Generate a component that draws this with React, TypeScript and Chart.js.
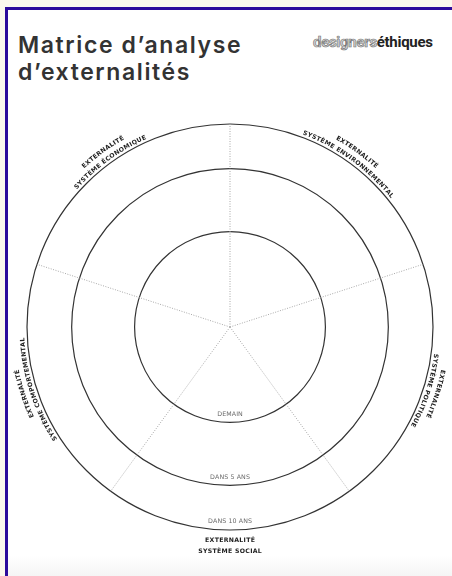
import React, { useEffect, useRef } from 'react';
import { Chart, registerables } from 'chart.js';

Chart.register(...registerables);

const titleLines = ['Matrice d\u2019analyse', 'd\u2019externalit\u00e9s'];
const logoLight = 'designers';
const logoBold = '\u00e9thiques';

// sectors between the spokes, clockwise from the top
const sectorPrefix = 'EXTERNALIT\u00c9';
const sectorNames = [
  'SYST\u00c8ME ENVIRONNEMENTAL',
  'SYST\u00c8ME POLITIQUE',
  'SYST\u00c8ME SOCIAL',
  'SYST\u00c8ME COMPORTEMENTAL',
  'SYST\u00c8ME \u00c9CONOMIQUE',
];
const sectorValues = [null, null, null, null, null];

// rings (time horizons), in % of the radius
const ringLabels = ['DEMAIN', 'DANS 5 ANS', 'DANS 10 ANS'];
const ringValues = [47, 78, 100];

function spacedWidth(ctx: CanvasRenderingContext2D, text: string, ls: number) {
  let w = 0;
  for (const ch of text) w += ctx.measureText(ch).width + ls;
  return w - ls;
}

function drawStraight(ctx: CanvasRenderingContext2D, text: string, x: number, y: number, ls: number) {
  const total = spacedWidth(ctx, text, ls);
  let cur = x - total / 2;
  ctx.textAlign = 'left';
  for (const ch of text) {
    ctx.fillText(ch, cur, y);
    cur += ctx.measureText(ch).width + ls;
  }
}

function drawArc(ctx: CanvasRenderingContext2D, text: string, cx: number, cy: number, R: number, theta: number, ls: number) {
  const total = spacedWidth(ctx, text, ls);
  let phi = theta - total / (2 * R);
  ctx.textAlign = 'center';
  ctx.textBaseline = 'alphabetic';
  for (const ch of text) {
    const w = ctx.measureText(ch).width;
    const a = phi + w / 2 / R;
    ctx.save();
    ctx.translate(cx + R * Math.sin(a), cy - R * Math.cos(a));
    ctx.rotate(a);
    ctx.fillText(ch, 0, 0);
    ctx.restore();
    phi += (w + ls) / R;
  }
}

const labelPlugin = {
  id: 'matrixLabels',
  afterDraw(chart: any) {
    const s = chart.scales.r;
    const ctx: CanvasRenderingContext2D = chart.ctx;
    const cx = s.xCenter;
    const cy = s.yCenter;
    const R = s.drawingArea;
    ctx.save();
    // ring labels, at the bottom inside each circle
    ctx.font = '6.3px "DejaVu Sans"';
    ctx.fillStyle = '#6a6a6a';
    ctx.textBaseline = 'middle';
    ringValues.forEach((v, i) => {
      const p = s.getPointPosition(2.5, s.getDistanceFromCenterForValue(v) - 8.3);
      drawStraight(ctx, ringLabels[i], p.x, p.y, 0.1);
    });
    // sector labels
    ctx.font = 'bold 6.2px "DejaVu Sans"';
    ctx.fillStyle = '#1e1e1e';
    sectorNames.forEach((name, i) => {
      const theta = s.getIndexAngle(i + 0.5);
      if (Math.abs(theta - Math.PI) < 0.2) {
        ctx.textBaseline = 'middle';
        const p1 = s.getPointPosition(i + 0.5, R + 10.5);
        const p2 = s.getPointPosition(i + 0.5, R + 21);
        drawStraight(ctx, sectorPrefix, p1.x, p1.y, 0.3);
        drawStraight(ctx, name, p2.x, p2.y, 0.3);
      } else {
        drawArc(ctx, name, cx, cy, R + 3, theta, 0.3);
        drawArc(ctx, sectorPrefix, cx, cy, R + 12.5, theta, 0.3);
      }
    });
    ctx.restore();
  },
};

function MatrixChart() {
  const ref = useRef<HTMLCanvasElement>(null);
  useEffect(() => {
    if (!ref.current) return;
    const chart = new Chart(ref.current, {
      type: 'radar',
      data: {
        labels: sectorNames,
        datasets: [
          {
            label: 'Externalit\u00e9s',
            data: sectorValues as any,
            pointRadius: 0,
            borderWidth: 0,
            fill: false,
          },
        ],
      },
      options: {
        responsive: false,
        animation: false,
        layout: { padding: { left: 27, right: 19, top: 124, bottom: 46 } },
        plugins: { legend: { display: false }, tooltip: { enabled: false } },
        scales: {
          r: {
            min: 0,
            max: 100,
            startAngle: 0,
            afterBuildTicks: (sc: any) => {
              sc.ticks = [0, ...ringValues].map((v) => ({ value: v }));
            },
            ticks: { display: false },
            pointLabels: { display: false },
            grid: { circular: true, color: '#333333', lineWidth: 1.2 },
            angleLines: { color: '#a8a8a8', lineWidth: 1, borderDash: [1, 1.5] },
          },
        },
      } as any,
      plugins: [labelPlugin],
    });
    return () => chart.destroy();
  }, []);
  return (
    <canvas
      ref={ref}
      width={452}
      height={576}
      style={{ position: 'absolute', left: 0, top: 0, width: 452, height: 576 }}
    />
  );
}

export default function App() {
  return (
    <div
      style={{
        position: 'fixed',
        left: 0,
        top: 0,
        width: 452,
        height: 576,
        background: '#fbf8ee',
        overflow: 'hidden',
      }}
    >
      <div
        style={{
          position: 'absolute',
          left: 5,
          top: 7,
          right: 0,
          bottom: 0,
          borderLeft: '3px solid #2c0b9c',
          borderTop: '3px solid #2c0b9c',
          background: 'linear-gradient(to bottom, #ffffff 0px, #ffffff 545px, #f5f5f5 566px)',
        }}
      />
      <div
        style={{
          position: 'absolute',
          left: 18,
          top: 32,
          fontFamily: 'Inter',
          fontWeight: 600,
          fontSize: 23,
          lineHeight: '27px',
          letterSpacing: 1.6,
          color: '#333333',
          whiteSpace: 'nowrap',
        }}
      >
        {titleLines.map((l) => (
          <div key={l}>{l}</div>
        ))}
      </div>
      <div
        style={{
          position: 'absolute',
          left: 313,
          top: 35,
          fontFamily: 'Roboto',
          fontWeight: 700,
          fontSize: 15,
          lineHeight: '15px',
          letterSpacing: -0.3,
          whiteSpace: 'nowrap',
        }}
      >
        <span style={{ color: '#d0d0d0', WebkitTextStroke: '0.6px #707070' } as any}>{logoLight}</span>
        <span style={{ color: '#222' }}>{logoBold}</span>
      </div>
      <MatrixChart />
    </div>
  );
}
